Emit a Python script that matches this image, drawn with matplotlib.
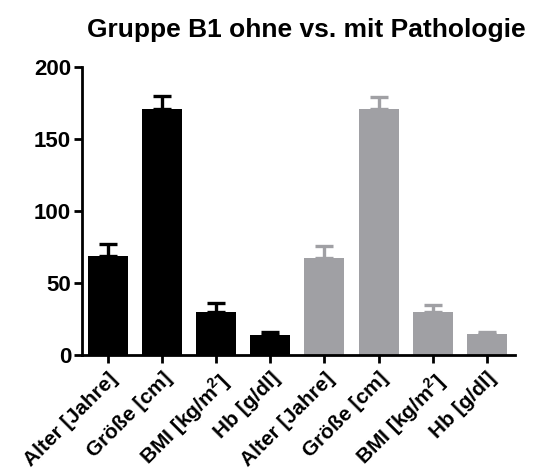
import numpy as np
import matplotlib
matplotlib.use("Agg")
import matplotlib.pyplot as plt

plt.rcParams['font.family'] = ['Liberation Sans', 'DejaVu Sans']
plt.rcParams['font.weight'] = 'bold'
plt.rcParams['mathtext.fontset'] = 'custom'
plt.rcParams['mathtext.rm'] = 'Liberation Sans:bold'
plt.rcParams['mathtext.bf'] = 'Liberation Sans:bold'

labels = ["Alter [Jahre]", "Größe [cm]", r"BMI [kg/m$^{2}$]", "Hb [g/dl]"] * 2
ohne_mean = [69, 171, 30, 14]
ohne_err = [8, 9, 6, 2]
mit_mean = [67.5, 171, 30, 14.5]
mit_err = [8.5, 8, 5, 1.5]

means = ohne_mean + mit_mean
errs = ohne_err + mit_err
colors = ['black'] * 4 + ['#a0a0a4'] * 4

fig = plt.figure(figsize=(5.34, 4.72), dpi=100)
ax = fig.add_axes([0.154, 0.248, 0.81, 0.61])

x = np.arange(len(means))
for i in range(len(means)):
    ax.bar(x[i], means[i], width=0.74, color=colors[i], zorder=2)
    ax.errorbar(x[i], means[i], yerr=[[0], [errs[i]]], fmt='none',
                ecolor=colors[i], elinewidth=2.4, capsize=6.5, capthick=2.4, zorder=1)

ax.set_xlim(-0.48, 7.52)
ax.set_ylim(0, 200)
ax.set_yticks([0, 50, 100, 150, 200])
ax.set_xticks(x)
ax.set_xticklabels(labels, rotation=45, ha='right', rotation_mode='anchor')
ax.tick_params(axis='y', width=2, length=6, labelsize=16, pad=2)
ax.tick_params(axis='x', width=2, length=6, labelsize=15, pad=4)
for s in ['top', 'right']:
    ax.spines[s].set_visible(False)
for s in ['left', 'bottom']:
    ax.spines[s].set_linewidth(2)

fig.text(0.574, 0.936, "Gruppe B1 ohne vs. mit Pathologie", ha='center', va='center',
         fontsize=19, fontweight='bold')

fig.savefig("out.png", dpi=100)
